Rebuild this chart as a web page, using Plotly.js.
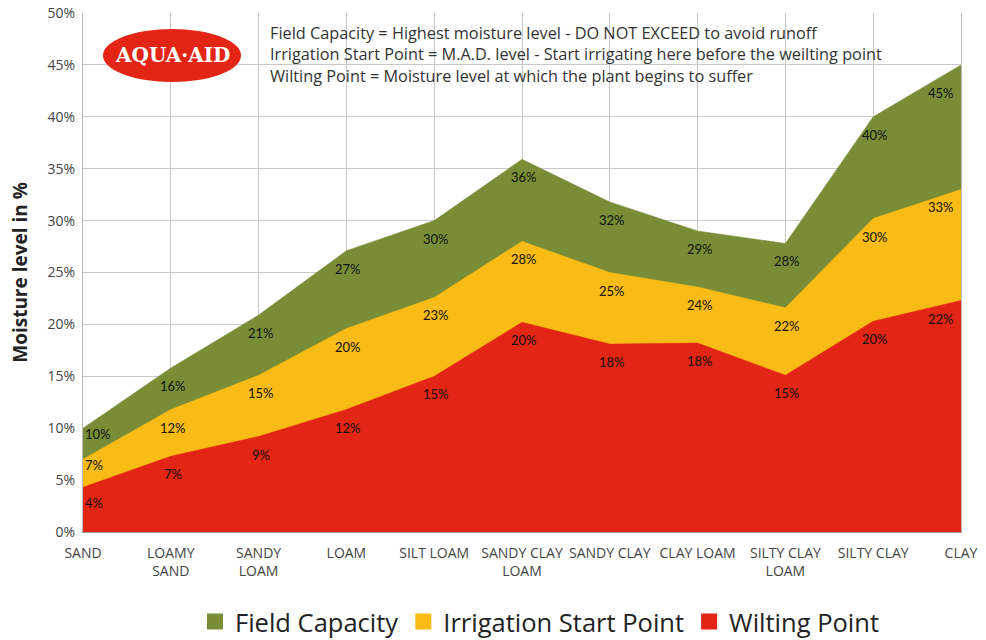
<!DOCTYPE html>
<html>
<head>
<meta charset="utf-8">
<script src="https://cdn.plot.ly/plotly-3.0.1.min.js"></script>
<style>html,body{margin:0;padding:0;background:#fff;}#chart{width:986px;height:640px;}</style>
</head>
<body>
<div id="chart"></div>
<script>
const categories = ["SAND", "LOAMY<br>SAND", "SANDY<br>LOAM", "LOAM", "SILT LOAM", "SANDY CLAY<br>LOAM", "SANDY CLAY", "CLAY LOAM", "SILTY CLAY<br>LOAM", "SILTY CLAY", "CLAY"];
const fieldCapacity = [10, 15.8, 20.9, 27.1, 30, 35.9, 31.8, 29, 27.8, 40, 45];
const irrigationStart = [7, 11.8, 15.1, 19.6, 22.6, 28, 25, 23.6, 21.6, 30.2, 33];
const wiltingPoint = [4.3, 7.3, 9.2, 11.8, 15, 20.2, 18.1, 18.2, 15.1, 20.3, 22.3];
const seriesNames = ["Field Capacity", "Irrigation Start Point", "Wilting Point"];
const seriesColors = ["#788d36", "#f9bb16", "#e32515"];
const noteLines = [
  "Field Capacity = Highest moisture level - DO NOT EXCEED to avoid runoff",
  "Irrigation Start Point = M.A.D. level - Start irrigating here before the weilting point",
  "Wilting Point = Moisture level at which the plant begins to suffer"
];

const seriesData = [fieldCapacity, irrigationStart, wiltingPoint];
const xIdx = categories.map((c, i) => i);
const traces = [];
seriesData.forEach((vals, s) => {
  traces.push({
    type: "scatter", mode: "lines", x: xIdx, y: vals,
    fill: "tozeroy", fillcolor: seriesColors[s],
    line: {color: seriesColors[s], width: 0.5},
    showlegend: false, hoverinfo: "skip"
  });
});
seriesData.forEach((vals, s) => {
  traces.push({
    type: "scatter", mode: "markers", x: [null], y: [null],
    name: seriesNames[s],
    marker: {symbol: "square", size: 16, color: seriesColors[s]},
    showlegend: true
  });
});

const annotations = [];
seriesData.forEach((vals, s) => {
  vals.forEach((v, i) => {
    const last = i === vals.length - 1;
    annotations.push({
      x: i, y: v, xref: "x", yref: "y",
      text: Math.round(v) + "%",
      showarrow: false,
      xanchor: i === 0 ? "left" : (last ? "right" : "center"),
      yanchor: "middle",
      xshift: i === 0 ? 0 : (last ? -5 : 2),
      yshift: i === 0 ? (s === 2 ? -16 : -6) : (last && s === 0 ? -28 : -18),
      font: {family: "Lato, 'Open Sans', sans-serif", size: 13, color: "#111"}
    });
  });
});
noteLines.forEach((t, k) => {
  annotations.push({
    xref: "paper", yref: "paper", x: (268 - 83) / 878, y: 1 - (33 + 21.5 * k - 13) / 519,
    xanchor: "left", yanchor: "middle", showarrow: false, align: "left",
    text: t, font: {family: "'Open Sans', sans-serif", size: 16.3, color: "#333"}
  });
});
annotations.push({
  xref: "paper", yref: "paper", x: (172 - 83) / 878, y: 1 - (55 - 13) / 519,
  xanchor: "center", yanchor: "middle", showarrow: false,
  text: "<b>AQUA·AID</b>",
  font: {family: "'DejaVu Serif', serif", size: 20, color: "#ffffff"}
});

const layout = {
  width: 986, height: 640,
  margin: {l: 83, r: 25, t: 13, b: 108, autoexpand: false},
  paper_bgcolor: "#fff", plot_bgcolor: "#fff",
  showlegend: true,
  legend: {
    orientation: "h", x: 540 / 986, xref: "container", xanchor: "center",
    y: 1 - 622 / 640, yref: "container", yanchor: "middle",
    font: {family: "'Open Sans', sans-serif", size: 25.5, color: "#222"},
    itemclick: false, traceorder: "normal"
  },
  xaxis: {
    range: [0, 10], tickmode: "array", tickvals: xIdx, ticktext: categories,
    showgrid: true, gridcolor: "#c8c8c8", gridwidth: 1, automargin: false,
    showline: true, linecolor: "#999", linewidth: 1,
    zeroline: false, ticks: "", ticklabelstandoff: 8,
    tickfont: {family: "'Open Sans', sans-serif", size: 14, color: "#444"}
  },
  yaxis: {
    range: [0, 50], dtick: 5, ticksuffix: "%", automargin: false,
    showgrid: true, gridcolor: "#c8c8c8", gridwidth: 1,
    showline: true, linecolor: "#bbb", mirror: true, zeroline: false,
    ticks: "", ticklabelstandoff: 4,
    tickfont: {family: "'Open Sans', sans-serif", size: 14, color: "#444"},
    title: {text: "<b>Moisture level in %</b>", standoff: 14,
      font: {family: "'Open Sans', sans-serif", size: 19, color: "#222"}}
  },
  shapes: [{
    type: "circle", xref: "paper", yref: "paper",
    x0: (103 - 83) / 878, x1: (241 - 83) / 878,
    y0: 1 - (82 - 13) / 519, y1: 1 - (29 - 13) / 519,
    fillcolor: "#e32515", line: {width: 0}, layer: "above"
  }],
  annotations: annotations
};

Plotly.newPlot("chart", traces, layout, {displayModeBar: false, staticPlot: true});
</script>
</body>
</html>
